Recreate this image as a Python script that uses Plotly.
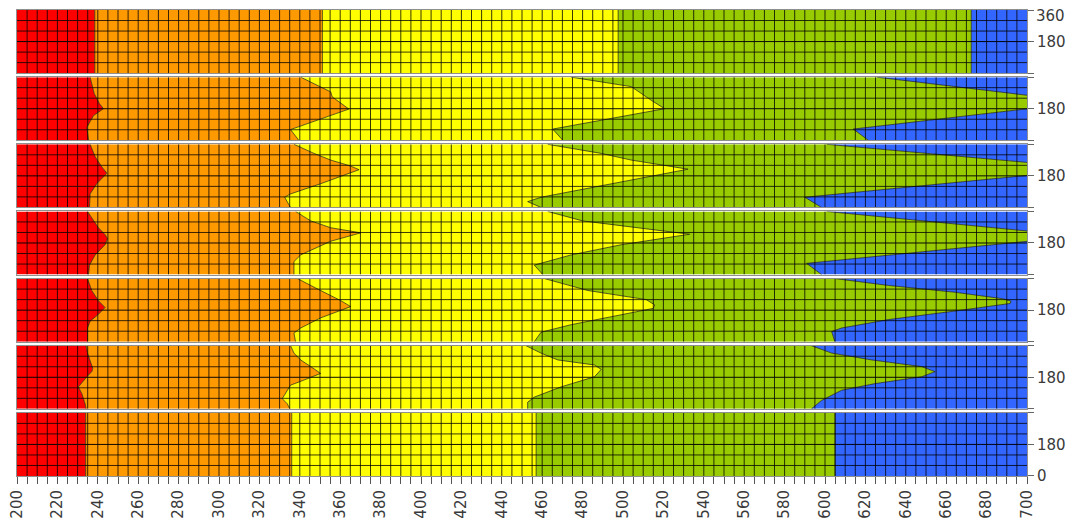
import plotly.graph_objects as go

# ---------------- data ----------------
X_MIN, X_MAX = 200, 700
X_LABEL_TICKS = list(range(200, 701, 20))
X_MINOR_STEP = 5
ANGLE_GRID = [60, 120, 240, 300]
ANGLE_MID = 180

BAND_COLORS = ["#ff0000", "#ff9900", "#ffff00", "#99cc00", "#3366ff"]

# boundary positions: (angle in deg, x) from 0 to 360, panel 1 = top
# panel 1 (straight boundaries)
p1_red_orange = [(0, 238.5), (360, 238.5)]
p1_orange_yellow = [(0, 351.2), (360, 351.2)]
p1_yellow_green = [(0, 497.6), (360, 497.6)]
p1_green_blue = [(0, 672.4), (360, 672.4)]

# panel 2
p2_red_orange = [(0, 235.4), (74, 234.6), (141, 237.9), (180, 242.8), (209, 240.8), (267, 238.2), (360, 236.2)]
p2_orange_yellow = [(0, 339.5), (61, 335.4), (178, 364.3), (248, 356.0), (276, 355.3), (360, 340.4)]
p2_yellow_green = [(0, 470.2), (64, 465.2), (180, 520.6), (228, 514.0), (306, 504.1), (360, 474.3)]
p2_green_blue = [(0, 621.5), (64, 614.0), (180, 700.5), (218, 706.0), (256, 700.5), (360, 625.6)]

# panel 3
p3_red_orange = [(0, 235.9), (77, 236.2), (135, 239.5), (195, 244.5), (231, 242.0), (289, 238.7), (360, 236.2)]
p3_orange_yellow = [(0, 335.4), (58, 332.5), (77, 335.4), (135, 350.3), (215, 369.3), (236, 365.2), (270, 355.3), (308, 347.0), (360, 337.1)]
p3_yellow_green = [(0, 459.4), (33, 452.8), (58, 459.4), (116, 485.9), (218, 532.2), (270, 504.1), (308, 489.2), (360, 462.7)]
p3_green_blue = [(0, 598.3), (58, 590.0), (183, 700.5), (220, 706.0), (256, 700.5), (360, 600.8)]

# panel 4
p4_red_orange = [(0, 235.4), (54, 235.9), (112, 238.7), (170, 243.6), (205, 244.8), (228, 243.6), (267, 240.3), (325, 237.0), (360, 234.9)]
p4_orange_yellow = [(0, 337.1), (74, 337.1), (112, 340.4), (190, 355.3), (238, 370.2), (267, 355.3), (306, 345.4), (360, 337.9)]
p4_yellow_green = [(0, 460.3), (54, 456.1), (112, 474.3), (170, 499.1), (230, 533.0), (267, 507.0), (306, 480.0), (360, 462.7)]
p4_green_blue = [(0, 598.3), (64, 590.9), (190, 700.5), (219, 706.0), (248, 700.5), (360, 600.8)]

# panel 5
p5_red_orange = [(0, 234.9), (78, 234.9), (117, 236.2), (156, 240.3), (195, 243.6), (234, 240.3), (292, 237.0), (360, 234.9)]
p5_orange_yellow = [(0, 337.9), (49, 337.1), (78, 340.4), (136, 350.3), (200, 365.2), (234, 360.3), (292, 350.3), (360, 338.8)]
p5_yellow_green = [(0, 456.1), (54, 459.4), (97, 474.3), (136, 490.8), (190, 515.0), (210, 515.7), (240, 511.5), (292, 482.6), (360, 461.1)]
p5_green_blue = [(0, 604.9), (58, 603.3), (78, 608.2), (126, 631.3), (175, 664.4), (218, 691.7), (232, 692.0), (245, 688.0), (282, 664.4), (321, 631.3), (360, 604.9)]

# panel 6
p6_red_orange = [(0, 234.2), (29, 233.7), (87, 232.1), (125, 230.4), (183, 234.6), (212, 237.0), (231, 237.5), (279, 236.2), (318, 234.9), (360, 234.2)]
p6_orange_yellow = [(0, 335.1), (29, 333.8), (58, 331.3), (87, 333.0), (135, 335.4), (164, 342.0), (202, 350.3), (241, 345.4), (279, 340.4), (318, 337.1), (360, 335.4)]
p6_yellow_green = [(0, 452.8), (38, 452.8), (67, 456.1), (125, 469.3), (183, 485.9), (225, 489.2), (250, 485.9), (279, 467.7), (318, 459.4), (360, 452.0)]
p6_green_blue = [(0, 593.3), (48, 598.3), (106, 608.2), (144, 624.8), (183, 647.9), (212, 654.5), (241, 647.9), (279, 623.1), (318, 603.3), (360, 593.3)]

# panel 7 (straight boundaries)
p7_red_orange = [(0, 234.0), (360, 234.0)]
p7_orange_yellow = [(0, 336.0), (360, 336.0)]
p7_yellow_green = [(0, 457.0), (360, 457.0)]
p7_green_blue = [(0, 605.0), (360, 605.0)]

PANELS = [
    [p1_red_orange, p1_orange_yellow, p1_yellow_green, p1_green_blue],
    [p2_red_orange, p2_orange_yellow, p2_yellow_green, p2_green_blue],
    [p3_red_orange, p3_orange_yellow, p3_yellow_green, p3_green_blue],
    [p4_red_orange, p4_orange_yellow, p4_yellow_green, p4_green_blue],
    [p5_red_orange, p5_orange_yellow, p5_yellow_green, p5_green_blue],
    [p6_red_orange, p6_orange_yellow, p6_yellow_green, p6_green_blue],
    [p7_red_orange, p7_orange_yellow, p7_yellow_green, p7_green_blue],
]

# ---------------- figure ----------------
# page body has an 8px default margin, so the figure is sized/offset to compensate
W, H = 1067, 513
ML, MR, MT, MB = 9, 48, 2, 45
plot_h = H - MT - MB
GAP = 4
n = len(PANELS)
panel_h = (plot_h - GAP * (n - 1)) / n

fig = go.Figure()
FONT = dict(family="DejaVu Sans, Verdana, sans-serif", size=15, color="#3a3a3a")
FRAME = "#8f8f8f"
GRID = "rgba(0,0,0,0.78)"
GRID_MID = "rgba(0,0,0,0.95)"
EDGE = "rgba(30,30,0,0.7)"

# grid line geometry from tick spacing
gx, gy = [], []
for xv in range(X_MIN + X_MINOR_STEP, X_MAX, X_MINOR_STEP):
    gx += [xv, xv, None]
    gy += [0, 360, None]
for av in ANGLE_GRID:
    gx += [X_MIN, X_MAX, None]
    gy += [av, av, None]

layout = {}
for i, bounds in enumerate(PANELS):
    s = "" if i == 0 else str(i + 1)
    xa, ya = "x" + s, "y" + s
    common = dict(xaxis=xa, yaxis=ya, showlegend=False, hoverinfo="skip")
    fig.add_trace(go.Scatter(x=[X_MIN, X_MIN], y=[0, 360], mode="lines",
                             line=dict(width=0, color="rgba(0,0,0,0)"), **common))
    for j, b in enumerate(bounds):
        fig.add_trace(go.Scatter(x=[p[1] for p in b], y=[p[0] for p in b], mode="lines",
                                 line=dict(width=1, color=EDGE), fill="tonextx",
                                 fillcolor=BAND_COLORS[j], **common))
    fig.add_trace(go.Scatter(x=[X_MAX, X_MAX], y=[0, 360], mode="lines",
                             line=dict(width=0, color="rgba(0,0,0,0)"), fill="tonextx",
                             fillcolor=BAND_COLORS[4], **common))
    fig.add_trace(go.Scatter(x=gx, y=gy, mode="lines", line=dict(width=1, color=GRID), **common))
    fig.add_trace(go.Scatter(x=[X_MIN, X_MAX], y=[ANGLE_MID, ANGLE_MID], mode="lines",
                             line=dict(width=1, color=GRID_MID), **common))

    top_px = i * (panel_h + GAP)
    bot_px = top_px + panel_h
    dom = [max(0, 1 - bot_px / plot_h), min(1, 1 - top_px / plot_h)]

    ticktext = ["", "180", ""]
    if i == n - 1:
        ticktext = ["0", "180", ""]

    xdict = dict(domain=[0, 1], range=[X_MIN, X_MAX], anchor=ya, showgrid=False, zeroline=False,
                 showline=True, mirror=True, linecolor=FRAME, linewidth=1, automargin=False,
                 fixedrange=True)
    if i == n - 1:
        xdict.update(ticks="outside", ticklen=7, tickcolor="#555555", tickwidth=1,
                     tickmode="array", tickvals=X_LABEL_TICKS, tickangle=-90,
                     tickfont=FONT, ticklabeloverflow="allow",
                     minor=dict(dtick=X_MINOR_STEP, tick0=X_MIN, ticks="outside", ticklen=7,
                                tickcolor="#555555", tickwidth=1, showgrid=False))
    else:
        xdict.update(showticklabels=False, ticks="")
    ydict = dict(domain=dom, range=[0, 360], anchor=xa, side="right", showgrid=False,
                 zeroline=False, showline=True, mirror=True, linecolor=FRAME, linewidth=1,
                 tickmode="array", tickvals=[0, 180, 360], ticktext=ticktext,
                 ticks="outside", ticklen=6, tickcolor="#666666", tickfont=FONT,
                 ticklabeloverflow="allow", fixedrange=True, automargin=False)
    layout["xaxis" + s] = xdict
    layout["yaxis" + s] = ydict

fig.update_layout(**layout)
# top-of-range label (kept inside the page)
fig.add_annotation(x=1, xref="paper", xanchor="left", xshift=7, y=360, yref="y",
                   yanchor="top", yshift=5, text="360", showarrow=False, font=FONT)
fig.update_layout(width=W, height=H, margin=dict(l=ML, r=MR, t=MT, b=MB, autoexpand=False),
                  paper_bgcolor="white", plot_bgcolor="white", font=FONT)

fig.write_html("out.html")
